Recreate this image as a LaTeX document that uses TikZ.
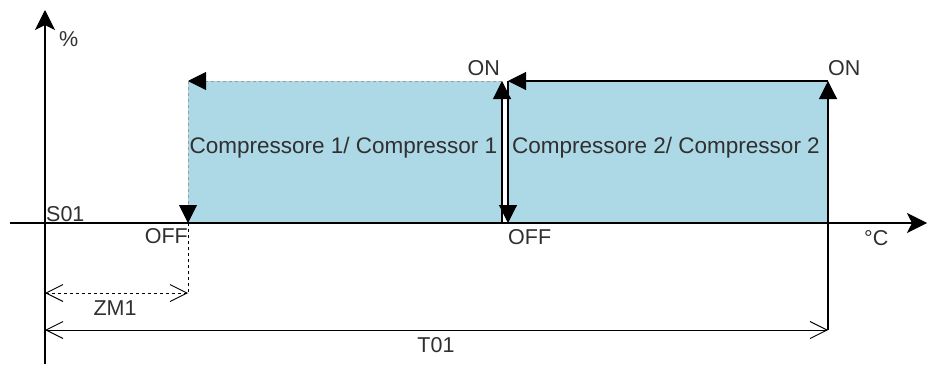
\documentclass[tikz,border=0pt]{standalone}
\usepackage{fontspec}
\setmainfont{Liberation Sans}
\usetikzlibrary{arrows.meta}
\definecolor{boxblue}{HTML}{ADD8E6}
\definecolor{txt}{HTML}{303030}
\definecolor{dgray}{HTML}{9A9A9A}
\tikzset{
  lbl/.style={inner sep=0pt, text=txt, font=\fontsize{21.5}{24}\selectfont},
  comp/.style={inner sep=0pt, text=txt, font=\fontsize{22.5}{26}\selectfont},
  axis/.style={line width=1.1pt, -{Stealth[length=20pt,width=20pt,inset=5pt]}},
  fillbox/.style={fill=boxblue, draw=none},
  tri/.style={-{Triangle[length=18pt,width=18pt,black]}},
  dim/.style={line width=0.9pt, {Straight Barb[length=17pt,width=17pt]}-{Straight Barb[length=17pt,width=17pt]}}
}
\begin{document}
\begin{tikzpicture}[x=1pt,y=-1pt]
\useasboundingbox (0,0) rectangle (928,364);
% coordinates
\coordinate (O) at (45,223);
\coordinate (ytop) at (45,10);
\coordinate (ybot) at (45,364);
\coordinate (xl) at (10,223);
\coordinate (xr) at (927,223);
\coordinate (a1) at (188,81);
\coordinate (a2) at (502,81);
\coordinate (a3) at (502,223);
\coordinate (a4) at (188,223);
\coordinate (b1) at (508,81);
\coordinate (b2) at (828,81);
\coordinate (b3) at (828,223);
\coordinate (b4) at (508,223);
\coordinate (zmL) at (45,293);
\coordinate (zmR) at (188,293);
\coordinate (tL) at (45,330);
\coordinate (tR) at (828,330);
% fills
\fill[boxblue] (a1) rectangle (a3);
\fill[boxblue] (b1) rectangle (b3);
% axes
\draw[line width=1.1pt] (ybot) -- (O);
\draw[axis] (O) -- (ytop);
\draw[axis] (xl) -- (xr);
% box 1 edges
\draw[dgray, dashed, line width=0.9pt, tri] (a2) -- (a1);
\draw[dgray, dashed, line width=0.9pt, tri] (a1) -- (a4);
\draw[line width=1.1pt, tri] (a3) -- (a2);
% box 2 edges
\draw[line width=1.1pt, tri] (b2) -- (b1);
\draw[line width=1.1pt, tri] (b1) -- (b4);
\draw[line width=1.1pt, tri] (tR) -- (b2);
% dimensions
\draw[dashed, line width=0.9pt] (a4) -- (zmR);
\draw[dim, dashed] (zmL) -- (zmR);
\draw[dim] (tL) -- (tR);
% labels
\node[lbl, anchor=base west] (pct) at (59,46) {\%};
\node[lbl, anchor=base west] (s01) at (46,221) {S01};
\node[lbl, anchor=base east] (off1) at (188,243) {OFF};
\node[lbl, anchor=base west] (off2) at (508,244) {OFF};
\node[lbl, anchor=base east] (on1) at (500,75) {ON};
\node[lbl, anchor=base west] (on2) at (828,75) {ON};
\node[lbl, anchor=base west] (degc) at (864,245) {°C};
\node[lbl, anchor=base] (zm1) at (115,315) {ZM1};
\node[lbl, anchor=base] (t01) at (436,352) {T01};
\node[comp, anchor=base] (c1) at (343.5,153) {Compressore 1/ Compressor 1};
\node[comp, anchor=base] (c2) at (666,153) {Compressore 2/ Compressor 2};
\end{tikzpicture}
\end{document}
